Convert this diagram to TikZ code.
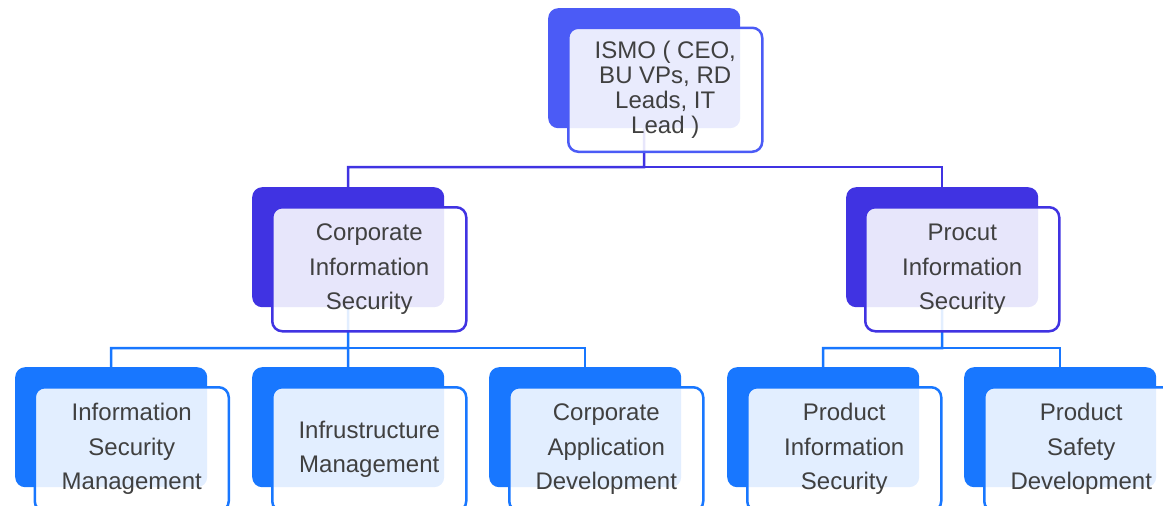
\documentclass[tikz,border=0pt]{standalone}
\usepackage{fontspec}
\setmainfont{Liberation Sans}
\definecolor{cTop}{HTML}{4B5BF6}
\definecolor{cMid}{HTML}{4033E2}
\definecolor{cLow}{HTML}{1877FF}
\definecolor{txt}{HTML}{404040}
\tikzset{
  backbox/.style={fill=#1, draw=none, rounded corners=10pt, minimum width=192pt, minimum height=120pt, anchor=north west, inner sep=0pt},
  frontbox/.style={draw=#1, line width=2.5pt, fill=white, fill opacity=0.88, text opacity=1, rounded corners=10pt, minimum width=194pt, minimum height=124pt, anchor=north west, inner sep=0pt, align=center, text=txt, font=\fontsize{24}{34.5}\selectfont},
  link/.style={draw=#1, line width=2.5pt},
}
\begin{document}
\begin{tikzpicture}[x=1pt,y=-1pt]
\useasboundingbox (0,0) rectangle (1163,506);
% back boxes
\node[backbox=cTop] (ismoB) at (548,8) {};
\node[backbox=cMid] (cisB) at (252,187) {};
\node[backbox=cMid] (proB) at (846,187) {};
\node[backbox=cLow] (b1B) at (15,367) {};
\node[backbox=cLow] (b2B) at (252,367) {};
\node[backbox=cLow] (b3B) at (489,367) {};
\node[backbox=cLow] (b4B) at (727,367) {};
\node[backbox=cLow] (b5B) at (964,367) {};
% connectors
\coordinate (bus1) at (644,167);
\coordinate (bus2) at (348,348);
\coordinate (bus3) at (942,348);
\draw[link=cMid] (ismoB.south) -- (bus1) -| (cisB.north);
\draw[link=cMid] (bus1) -| (proB.north);
\draw[link=cLow] (cisB.south) -- (bus2) -| (b1B.north);
\draw[link=cLow] (bus2) -| (b3B.north);
\draw[link=cLow] (bus2) -- (b2B.north);
\draw[link=cLow] (proB.south) -- (bus3) -| (b4B.north);
\draw[link=cLow] (bus3) -| (b5B.north);
% front boxes
\node[frontbox=cTop, font=\fontsize{24}{25}\selectfont] (ismo) at (567,26.5) {ISMO ( CEO,\\BU VPs, RD\\Leads, IT\\Lead )};
\node[frontbox=cMid] (cis) at (271,206) {Corporate\\Information\\Security};
\node[frontbox=cMid] (pro) at (864,206) {Procut\\Information\\Security};
\node[frontbox=cLow] (b1) at (33.5,386) {Information\\Security\\Management};
\node[frontbox=cLow] (b2) at (271,386) {Infrustructure\\Management};
\node[frontbox=cLow] (b3) at (508,386) {Corporate\\Application\\Development};
\node[frontbox=cLow] (b4) at (746,386) {Product\\Information\\Security};
\node[frontbox=cLow] (b5) at (983,386) {Product\\Safety\\Development};
\end{tikzpicture}
\end{document}
